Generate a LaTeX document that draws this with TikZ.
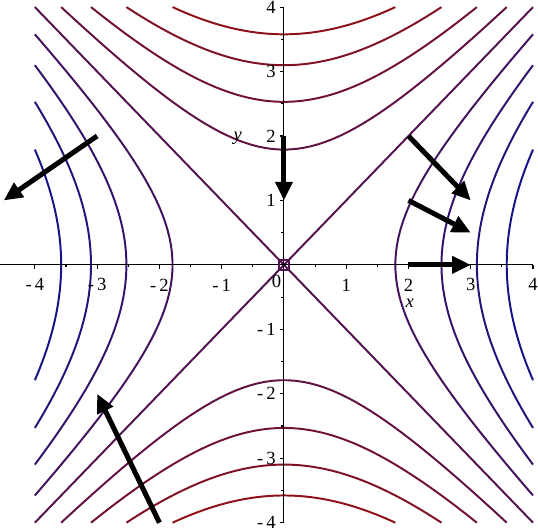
\documentclass[tikz,border=0pt]{standalone}
\usepackage{fontspec}
\setmainfont{Liberation Serif}
\usetikzlibrary{arrows.meta}
\definecolor{lowlev}{HTML}{901018}
\definecolor{highlev}{HTML}{141488}
\colorlet{midlev}{highlev!50!lowlev}
\newcommand\ticklbl[1]{\ifnum#1<0 -\,\the\numexpr-#1\relax\else#1\fi}

\begin{document}
\begin{tikzpicture}[x=1cm,y=1.035cm,
  axis/.style={black,line width=0.5pt},
  level/.style={line width=0.9pt},
  grad/.style={black,line width=2.3pt,-{Triangle[length=0.3cm,width=0.27cm]}},
  ticklabel/.style={font=\fontsize{8.5}{10}\selectfont,inner sep=1pt},
  axisname/.style={font=\itshape\fontsize{8.5}{10}\selectfont,inner sep=1pt},
]
  \useasboundingbox (-4.56,-4.12) rectangle (4.08,4.11);

  % contours x^2-y^2 = c
  \foreach \k in {1,...,4}{
    \pgfmathsetmacro\c{3.2*\k}
    \pgfmathsetmacro\m{sqrt(16-\c)}
    \pgfmathtruncatemacro\pp{50+12.5*\k}
    \pgfmathtruncatemacro\pn{50-12.5*\k}
    \colorlet{cpos}{highlev!\pp!lowlev}
    \colorlet{cneg}{highlev!\pn!lowlev}
    \draw[level,cpos] plot[domain=-\m:\m,samples=60,variable=\t] ({sqrt(\c+(\t)*(\t))},\t);
    \draw[level,cpos] plot[domain=-\m:\m,samples=60,variable=\t] ({-sqrt(\c+(\t)*(\t))},\t);
    \draw[level,cneg] plot[domain=-\m:\m,samples=60,variable=\t] (\t,{sqrt(\c+(\t)*(\t))});
    \draw[level,cneg] plot[domain=-\m:\m,samples=60,variable=\t] (\t,{-sqrt(\c+(\t)*(\t))});
  }
  \draw[level,midlev] (-4,-4) -- (4,4) (-4,4) -- (4,-4);

  % axes
  \draw[axis] (-4.56,0) -- (4,0);
  \draw[axis] (0,-4) -- (0,4);
  \foreach \t in {-4,...,4}
    \draw[axis] (\t,0) -- (\t,-0.065) (0,\t) -- (-0.065,\t);
  \foreach \t in {-3.5,-2.5,...,3.5}
    \draw[axis] (\t,0) -- (\t,-0.04) (0,\t) -- (-0.04,\t);
  \foreach \t in {-4,-3,-2,-1,1,2,3,4}{
    \node[ticklabel] (xl\t) at (\t,-0.31) {\ticklbl{\t}};
    \node[ticklabel,anchor=east] (yl\t) at (-0.09,\t) {\ticklbl{\t}};
  }
  \node[ticklabel] (zero) at (-0.12,-0.25) {0};
  \node[axisname] (xname) at (2.02,-0.59) {x};
  \node[axisname] (yname) at (-0.74,1.97) {y};

  % critical point
  \node[draw=midlev,line width=1pt,minimum size=0.17cm,inner sep=0pt] (crit) at (0,0) {};

  % gradient vectors
  \foreach \n/\x/\y/\u/\v in {a/0/2/0/1, b/2/2/3/1, c/2/1/3/0.5, d/2/0/3/0, e/-3/2/-4.5/1, f/-2/-4/-3/-2}{
    \coordinate (tail\n) at (\x,\y);
    \coordinate (head\n) at (\u,\v);
    \draw[grad] (tail\n) -- (head\n);
  }
\end{tikzpicture}
\end{document}
